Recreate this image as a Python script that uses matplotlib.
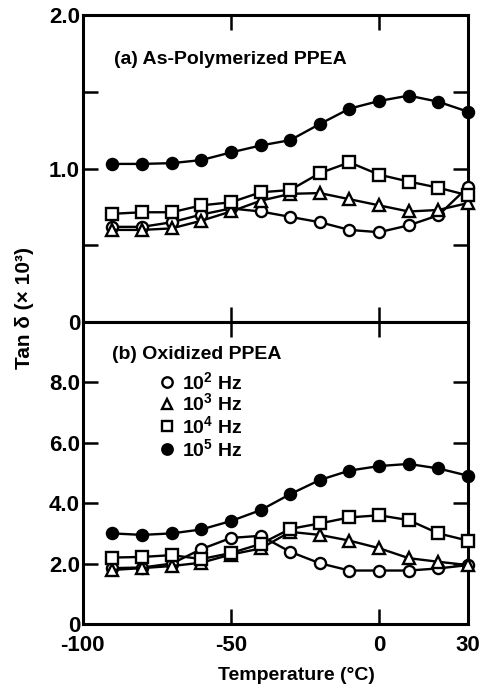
import matplotlib
matplotlib.use("Agg")
import matplotlib.pyplot as plt
import numpy as np

plt.rcParams['font.family'] = ['Liberation Sans', 'DejaVu Sans']
plt.rcParams['font.weight'] = 'bold'
plt.rcParams['mathtext.fontset'] = 'custom'
plt.rcParams['mathtext.bf'] = 'Liberation Sans:bold'

# temperature (deg C)
temps = [-90, -80, -70, -60, -50, -40, -30, -20, -10, 0, 10, 20, 30]

# (a) as-polymerized PPEA, tan delta x 10^3
as_poly_1e2 = [0.62, 0.62, 0.65, 0.70, 0.74, 0.72, 0.685, 0.65, 0.60, 0.585, 0.63, 0.695, 0.88]
as_poly_1e3 = [0.60, 0.60, 0.61, 0.66, 0.72, 0.79, 0.835, 0.84, 0.80, 0.76, 0.72, 0.73, 0.775]
as_poly_1e4 = [0.705, 0.715, 0.715, 0.76, 0.78, 0.845, 0.86, 0.97, 1.04, 0.96, 0.915, 0.875, 0.825]
as_poly_1e5 = [1.03, 1.03, 1.035, 1.055, 1.105, 1.15, 1.185, 1.29, 1.39, 1.44, 1.475, 1.435, 1.37]

# (b) oxidized PPEA, tan delta x 10^3
oxid_1e2 = [1.85, 1.87, 2.00, 2.48, 2.85, 2.92, 2.39, 2.01, 1.77, 1.77, 1.77, 1.84, 1.95]
oxid_1e3 = [1.79, 1.85, 1.92, 2.03, 2.30, 2.50, 3.05, 2.95, 2.76, 2.51, 2.18, 2.06, 1.95]
oxid_1e4 = [2.20, 2.22, 2.28, 2.15, 2.35, 2.65, 3.15, 3.33, 3.53, 3.60, 3.44, 3.00, 2.76]
oxid_1e5 = [3.00, 2.95, 3.00, 3.13, 3.41, 3.77, 4.30, 4.77, 5.08, 5.23, 5.30, 5.15, 4.91]

freq_labels = ["10$^{\\mathbf{2}}$ Hz", "10$^{\\mathbf{3}}$ Hz", "10$^{\\mathbf{4}}$ Hz", "10$^{\\mathbf{5}}$ Hz"]
markers = ['o', '^', 's', 'o']
fills = ['white', 'white', 'white', 'black']

fs = 16   # tick labels
fs_txt = 14  # panel titles, key, axis labels

fig = plt.figure(figsize=(4.79, 6.86), dpi=100)
ax_a = fig.add_axes([0.173, 0.5306, 0.804, 0.4475])
ax_b = fig.add_axes([0.173, 0.0904, 0.804, 0.4402])


def draw_series(ax, series):
  for vals, m, fc in zip(series, markers, fills):
    ax.plot(temps, vals, color='black', lw=1.7, marker=m, ms=8,
            mfc=fc, mec='black', mew=1.7, clip_on=False, zorder=3)


def style_axes(ax):
  for s in ax.spines.values():
    s.set_linewidth(2.2)
  ax.set_xlim(-100, 30)
  ax.tick_params(direction='in', length=11, width=1.8, top=True, right=True,
                 labelsize=fs, pad=2)
  ax.tick_params(axis='x', pad=8)
  ax.set_xticks([-100, -50, 0, 30])


draw_series(ax_a, [as_poly_1e2, as_poly_1e3, as_poly_1e4, as_poly_1e5])
style_axes(ax_a)
ax_a.set_ylim(0, 2.0)
ax_a.set_yticks([0, 0.5, 1.0, 1.5, 2.0])
ax_a.set_yticklabels(["0", "", "1.0", "", "2.0"])
ax_a.tick_params(labelbottom=False)
ax_a.text(-89.5, 1.71, "(a) As-Polymerized PPEA", fontsize=fs_txt, ha='left', va='center')

draw_series(ax_b, [oxid_1e2, oxid_1e3, oxid_1e4, oxid_1e5])
style_axes(ax_b)
ax_b.set_ylim(0, 10)
ax_b.set_yticks([0, 2, 4, 6, 8])
ax_b.set_yticklabels(["0", "2.0", "4.0", "6.0", "8.0"])
ax_b.set_xticklabels(["-100", "-50", "0", "30"])
ax_b.text(-90, 8.94, "(b) Oxidized PPEA", fontsize=fs_txt, ha='left', va='center')

# hand-drawn key inside panel (b)
key_y = [8.0, 7.28, 6.54, 5.78]
for y, m, fc, lab in zip(key_y, markers, fills, freq_labels):
  ax_b.plot([-71.6], [y], marker=m, ms=7.5, mfc=fc, mec='black', mew=1.7,
            color='black', ls='none')
  ax_b.text(-66.5, y, lab, fontsize=fs_txt, ha='left', va='center')

fig.text(296 / 479, 1 - 675 / 686, "Temperature (\u00b0C)", fontsize=fs_txt,
         ha='center', va='center')
fig.text(0.052, 1 - 308 / 686, "Tan \u03b4 (\u00d7 10\u00b3)", rotation=90,
         fontsize=fs_txt + 1, ha='center', va='center')

fig.savefig("out.png", dpi=100)
